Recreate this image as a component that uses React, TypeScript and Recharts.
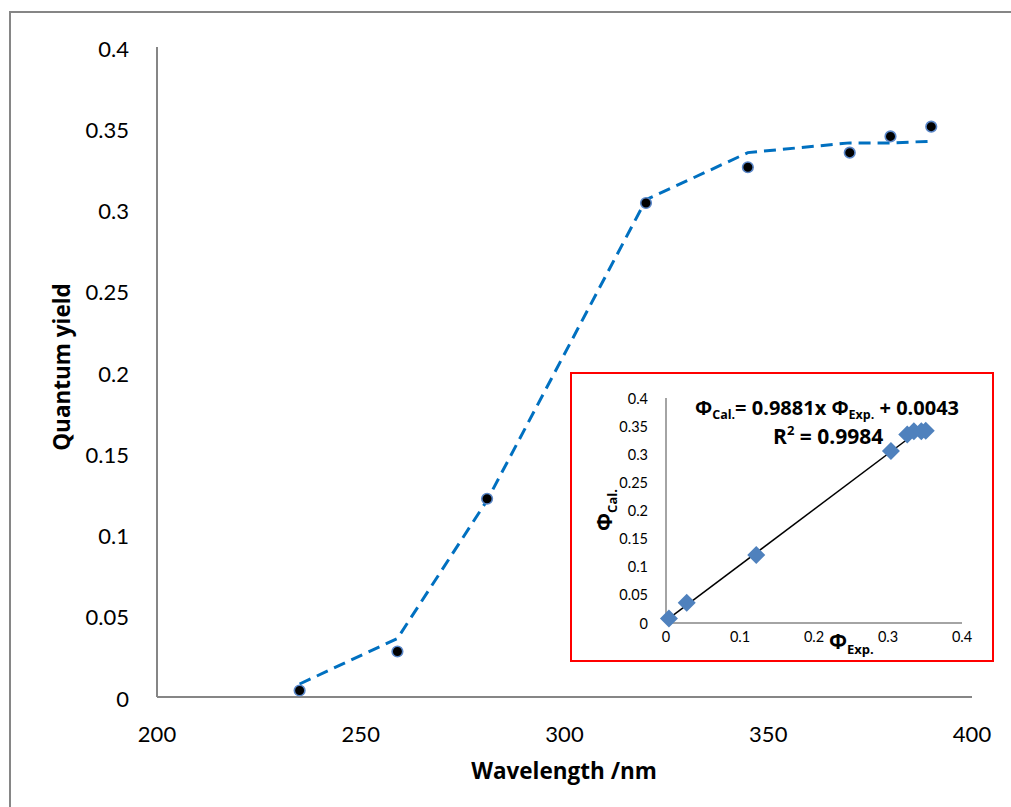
import {
  ComposedChart,
  ScatterChart,
  Line,
  Scatter,
  XAxis,
  YAxis,
  ReferenceLine,
  Customized,
} from 'recharts';

// measured quantum yields and the model values at each excitation wavelength
const wavelengths = [235, 259, 281, 320, 345, 370, 380, 390];
const phiExp = [0.004, 0.028, 0.122, 0.304, 0.326, 0.335, 0.345, 0.351];
const phiCal = [0.008, 0.036, 0.121, 0.306, 0.335, 0.341, 0.341, 0.342];

const wlTicks = [200, 250, 300, 350, 400];
const yieldTicks = [0, 0.05, 0.1, 0.15, 0.2, 0.25, 0.3, 0.35, 0.4];
const insetXTicks = [0, 0.1, 0.2, 0.3, 0.4];

// linear fit of calculated vs experimental yield
const fitSlope = 0.9881;
const fitIntercept = 0.0043;
const fitR2 = 0.9984;

const FONT = "Lato, 'DejaVu Sans', sans-serif";
const BOLD_FONT = "'Open Sans', 'DejaVu Sans', sans-serif";
const AXIS_GREY = '#868686';

const mainData = wavelengths.map((wl, i) => ({ wl, exp: phiExp[i], cal: phiCal[i] }));
const insetData = wavelengths.map((_, i) => ({ exp: phiExp[i], cal: phiCal[i] }));

const fitX0 = Math.min(...phiExp);
const fitX1 = Math.max(...phiExp);

const fmt = (v: number) => String(v);

const MainXTick = ({ x, y, payload }: any) => (
  <text x={x} y={y + 34} textAnchor="middle" dominantBaseline="central" fontSize={22} fontFamily={FONT} fill="#000">
    {fmt(payload.value)}
  </text>
);

const MainYTick = ({ x, y, payload }: any) => (
  <text x={x - 26} y={y + 1} textAnchor="end" dominantBaseline="central" fontSize={22} fontFamily={FONT} fill="#000">
    {fmt(payload.value)}
  </text>
);

const InsetXTick = ({ x, y, payload }: any) => (
  <text x={x} y={y + 11} textAnchor="middle" dominantBaseline="central" fontSize={14.5} fontFamily={FONT} fill="#000">
    {fmt(payload.value)}
  </text>
);

const InsetYTick = ({ x, y, payload }: any) => (
  <text x={x - 16} y={y} textAnchor="end" dominantBaseline="central" fontSize={14.5} fontFamily={FONT} fill="#000">
    {fmt(payload.value)}
  </text>
);

const Dot = ({ cx, cy }: any) => (
  <circle cx={cx} cy={cy} r={5.3} fill="#000" stroke="#5B87C8" strokeWidth={1.6} />
);

const Diamond = ({ cx, cy }: any) => {
  const h = 9;
  return (
    <polygon
      points={`${cx},${cy - h} ${cx + h},${cy} ${cx},${cy + h} ${cx - h},${cy}`}
      fill="#4F81BD"
    />
  );
};

const MainTitles = () => (
  <g fontFamily={BOLD_FONT} fontWeight="bold" fill="#000" fontSize={22.5}>
    <text x={564} y={779} textAnchor="middle">Wavelength /nm</text>
    <text transform="translate(70, 367) rotate(-90)" textAnchor="middle">Quantum yield</text>
  </g>
);

const InsetTitles = () => (
  <g fontFamily={BOLD_FONT} fontWeight="bold" fill="#000">
    <text x={123} y={41} fontSize={20}>
      Φ<tspan fontSize={12.5} dy={4}>Cal.</tspan>
      <tspan dy={-4}>= {fitSlope}x Φ</tspan>
      <tspan fontSize={12.5} dy={4}>Exp.</tspan>
      <tspan dy={-4}> + {fitIntercept}</tspan>
    </text>
    <text x={201} y={70} fontSize={21}>
      R<tspan fontSize={13} dy={-9}>2</tspan>
      <tspan dy={9}> = {fitR2}</tspan>
    </text>
    <text transform="translate(40, 136) rotate(-90)" textAnchor="middle" fontSize={21}>
      Φ<tspan fontSize={13} dy={5}>Cal.</tspan>
    </text>
    <text x={257} y={275} fontSize={21}>
      Φ<tspan fontSize={13} dy={5}>Exp.</tspan>
    </text>
  </g>
);

export default function App() {
  return (
    <div style={{ position: 'absolute', left: 0, top: 0, width: 1011, height: 807, overflow: 'hidden', background: '#fff' }}>
      <div
        style={{
          position: 'absolute',
          left: 9,
          top: 11,
          width: 1100,
          height: 900,
          border: `2px solid ${AXIS_GREY}`,
          boxSizing: 'border-box',
        }}
      />
      <div style={{ position: 'absolute', left: 0, top: 0 }}>
        <ComposedChart width={1011} height={807} data={mainData} margin={{ top: 47, right: 39, bottom: 0, left: 0 }}>
          <XAxis
            dataKey="wl"
            type="number"
            domain={[200, 400]}
            ticks={wlTicks}
            height={110}
            tickSize={0}
            tickLine={false}
            axisLine={{ stroke: AXIS_GREY, strokeWidth: 2 }}
            tick={<MainXTick />}
          />
          <YAxis
            type="number"
            domain={[0, 0.4]}
            ticks={yieldTicks}
            width={157}
            tickSize={0}
            tickLine={false}
            axisLine={{ stroke: AXIS_GREY, strokeWidth: 2 }}
            tick={<MainYTick />}
          />
          <Line
            type="linear"
            dataKey="cal"
            stroke="#0070C0"
            strokeWidth={3}
            strokeDasharray="12 7"
            dot={false}
            activeDot={false}
            isAnimationActive={false}
          />
          <Scatter dataKey="exp" shape={<Dot />} isAnimationActive={false} />
          <Customized component={<MainTitles />} />
        </ComposedChart>
      </div>
      <div
        style={{
          position: 'absolute',
          left: 570,
          top: 372,
          width: 424,
          height: 290,
          border: '2px solid #FF0000',
          boxSizing: 'border-box',
          background: '#fff',
        }}
      >
        <ScatterChart width={420} height={286} margin={{ top: 24, right: 30, bottom: 0, left: 0 }}>
          <XAxis
            dataKey="exp"
            type="number"
            domain={[0, 0.4]}
            ticks={insetXTicks}
            height={37}
            tickSize={0}
            tickLine={false}
            axisLine={{ stroke: AXIS_GREY, strokeWidth: 1.5 }}
            tick={<InsetXTick />}
          />
          <YAxis
            dataKey="cal"
            type="number"
            domain={[0, 0.4]}
            ticks={yieldTicks}
            width={94}
            tickSize={0}
            tickLine={false}
            axisLine={{ stroke: AXIS_GREY, strokeWidth: 1.5 }}
            tick={<InsetYTick />}
          />
          <Scatter data={insetData} shape={<Diamond />} isAnimationActive={false} />
          <ReferenceLine
            segment={[
              { x: fitX0, y: fitSlope * fitX0 + fitIntercept },
              { x: fitX1, y: fitSlope * fitX1 + fitIntercept },
            ]}
            stroke="#000"
            strokeWidth={1.5}
            ifOverflow="visible"
          />
          <Customized component={<InsetTitles />} />
        </ScatterChart>
      </div>
    </div>
  );
}
